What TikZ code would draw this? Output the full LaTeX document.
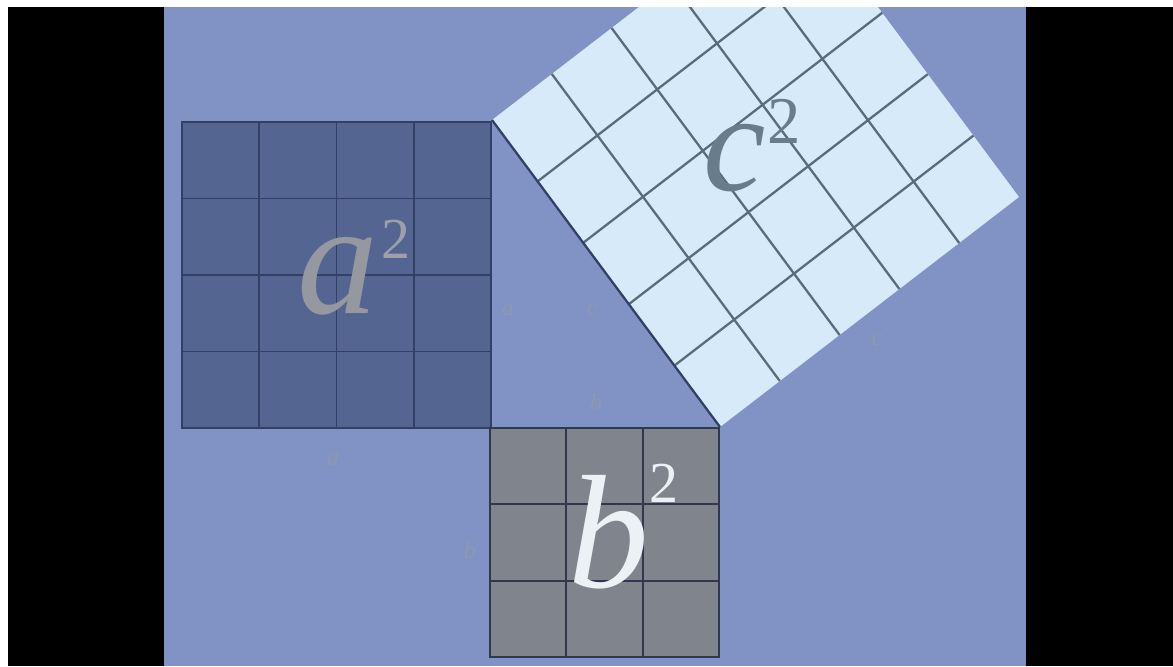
\documentclass[tikz,border=0pt]{standalone}
\usepackage{fontspec}
\setmainfont{Liberation Serif}
\usetikzlibrary{positioning,calc}
\definecolor{bgblue}{RGB}{129,146,196}
\definecolor{asq}{RGB}{84,101,146}
\definecolor{aline}{RGB}{50,64,102}
\definecolor{bsq}{RGB}{128,132,140}
\definecolor{bline}{RGB}{48,56,78}
\definecolor{csq}{RGB}{214,234,250}
\definecolor{cline}{RGB}{88,108,124}
\definecolor{faint}{RGB}{150,158,160}

\begin{document}
\begin{tikzpicture}[x=0.02cm, y=-0.02cm,
  bigletter/.style={font=\fontsize{92}{92}\selectfont\itshape, inner sep=0pt, anchor=base},
  power/.style={font=\fontsize{33}{33}\selectfont, inner sep=0pt, anchor=base},
  sidelabel/.style={font=\fontsize{14}{14}\selectfont\itshape, text=faint, text opacity=0.6, inner sep=0pt}]
  % frame of the video still
  \fill[white] (0,0) rectangle (1173,666);
  \fill[black] (8,7) rectangle (1173,666);
  \fill[bgblue] (164,7) rectangle (1026,666);
  \useasboundingbox (0,0) rectangle (1173,666);
  % corners
  \coordinate (aNW) at (182,122); \coordinate (aNE) at (491,122);
  \coordinate (aSW) at (182,428); \coordinate (aSE) at (491,428);
  \coordinate (bNW) at (490,428); \coordinate (bNE) at (719,428);
  \coordinate (bSW) at (490,657); \coordinate (bSE) at (719,657);
  \coordinate (c1) at (492,120); \coordinate (c2) at (720,427);
  \coordinate (c3) at (1019,197); \coordinate (c4) at (791,-110);
  % square on a
  \fill[asq] (aNW) rectangle (aSE);
  \foreach \i in {1,2,3} {
    \draw[aline, line width=1pt] ($(aNW)!\i/4!(aNE)$) -- ($(aSW)!\i/4!(aSE)$);
    \draw[aline, line width=1pt] ($(aNW)!\i/4!(aSW)$) -- ($(aNE)!\i/4!(aSE)$);
  }
  \draw[aline, line width=1.2pt] (aNW) rectangle (aSE);
  % square on b
  \fill[bsq] (bNW) rectangle (bSE);
  \foreach \i in {1,2} {
    \draw[bline, line width=1pt] ($(bNW)!\i/3!(bNE)$) -- ($(bSW)!\i/3!(bSE)$);
    \draw[bline, line width=1pt] ($(bNW)!\i/3!(bSW)$) -- ($(bNE)!\i/3!(bSE)$);
  }
  \draw[bline, line width=1.2pt] (bNW) rectangle (bSE);
  % square on c
  \begin{scope}
    \clip (164,7) rectangle (1026,666);
    \fill[csq] (c1) -- (c2) -- (c3) -- (c4) -- cycle;
    \foreach \i in {1,2,3,4} {
      \draw[cline, line width=1.3pt] ($(c1)!\i/5!(c2)$) -- ($(c4)!\i/5!(c3)$);
      \draw[cline, line width=1.3pt] ($(c2)!\i/5!(c3)$) -- ($(c1)!\i/5!(c4)$);
    }
  \end{scope}
  \draw[aline, line width=1.3pt] (c1) -- (c2);
  % big labels
  \node[bigletter, text={rgb,255:red,150;green,152;blue,160}] (alet) at (338,313) {a};
  \node[power, text={rgb,255:red,158;green,160;blue,168}] (apow) at (396,258) {2};
  \node[bigletter, text={rgb,255:red,236;green,241;blue,246}] (blet) at (609,587) {b};
  \node[power, text={rgb,255:red,236;green,241;blue,246}] (bpow) at (664,502) {2};
  \node[bigletter, font=\fontsize{80}{80}\selectfont\itshape, text={rgb,255:red,104;green,124;blue,140}] (clet) at (735,190) {c};
  \node[power, font=\fontsize{38}{38}\selectfont, text={rgb,255:red,104;green,124;blue,140}] (cpow) at (784,143) {2};
  % faint side labels
  \node[sidelabel] (sa1) at (508,310) {a};
  \node[sidelabel] (sc1) at (592,310) {c};
  \node[sidelabel] (sb1) at (596,402) {b};
  \node[sidelabel] (sa2) at (333,460) {a};
  \node[sidelabel] (sb2) at (470,550) {b};
  \node[sidelabel] (sc2) at (877,340) {c};
\end{tikzpicture}
\end{document}
